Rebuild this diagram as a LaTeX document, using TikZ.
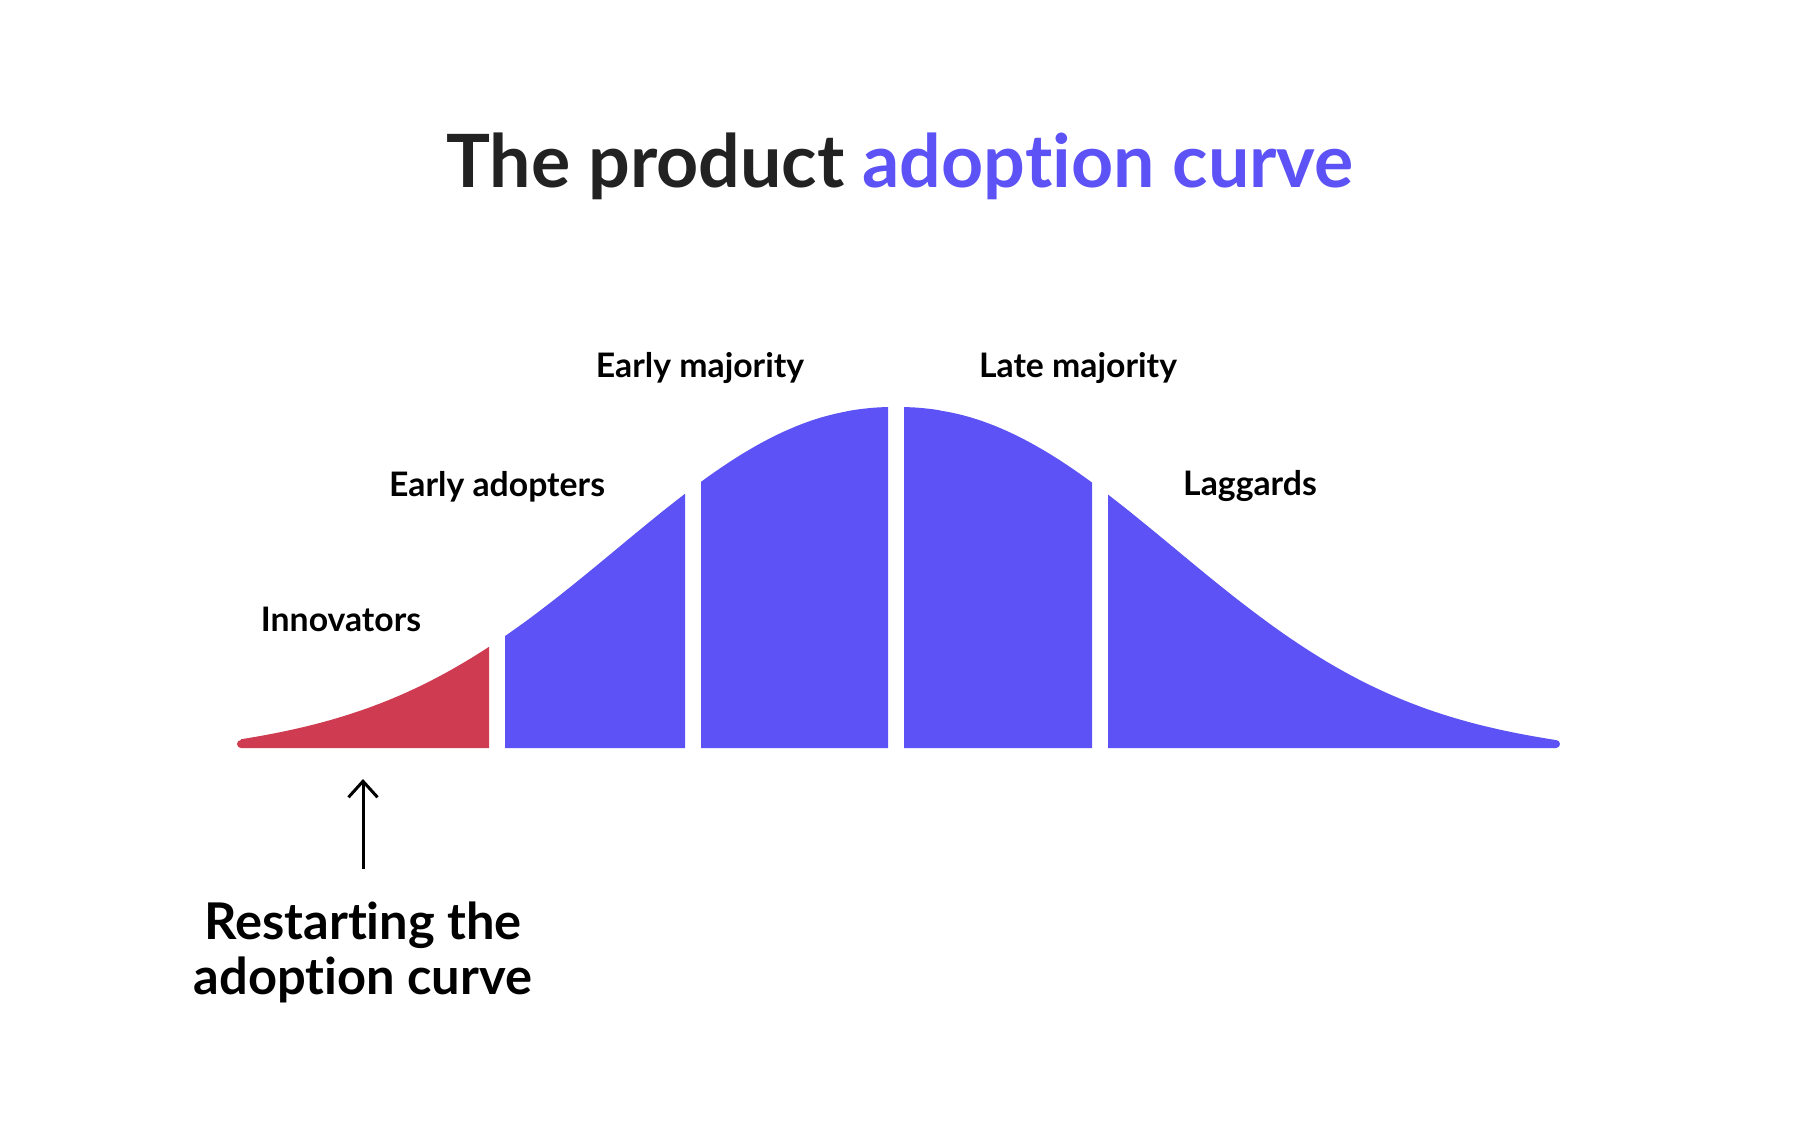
\documentclass[tikz,border=0pt]{standalone}
\usepackage{fontspec}
\setmainfont{Lato}[Ligatures=NoCommon]
\usetikzlibrary{arrows.meta}
\definecolor{cblue}{HTML}{5C52F5}
\definecolor{cred}{HTML}{CF3B50}
\definecolor{ink}{HTML}{222222}
\begin{document}
\begin{tikzpicture}[x=0.01cm,y=-0.01cm,
  declare function={bell(\t)=748-341*exp(-((abs(\t-896)+0.01)/372)^2.16)+3*(abs(\t-896)/664)^8;},
  lab/.style={font=\fontsize{9.6}{11}\selectfont\bfseries, anchor=base, inner sep=0pt, text=black},
  big/.style={font=\fontsize{14.4}{17}\selectfont\bfseries, anchor=base, inner sep=0pt, text=black},
  ttl/.style={font=\fontsize{20.9}{25}\selectfont\bfseries, anchor=base, inner sep=0pt},
  bluebar/.style={fill=cblue},
  redbar/.style={fill=cred},
  pointer/.style={line width=0.03cm, -{Straight Barb[length=1.6mm,width=2.9mm]}}]
\useasboundingbox (0,0) rectangle (1800,1120);
\fill[white] (0,0) rectangle (1800,1120);

% title
\node[ttl] (title) at (900,187) {\textcolor{ink}{The product} \textcolor{cblue}{adoption curve}};

% curve segments
\fill[redbar] (489,748) -- (241,748) -- plot[domain=241:489,samples=40] (\x,{bell(\x)}) -- cycle;
\fill[redbar] (241,744) circle[radius=4];
\fill[bluebar] (505,748) -- plot[domain=505:685,samples=40] (\x,{bell(\x)}) -- (685,748) -- cycle;
\fill[bluebar] (701,748) -- plot[domain=701:888,samples=40] (\x,{bell(\x)}) -- (888,748) -- cycle;
\fill[bluebar] (904,748) -- plot[domain=904:1092,samples=40] (\x,{bell(\x)}) -- (1092,748) -- cycle;
\fill[bluebar] (1108,748) -- plot[domain=1108:1556,samples=60] (\x,{bell(\x)}) -- (1556,748) -- cycle;
\fill[bluebar] (1556,744) circle[radius=4];

% labels
\node[lab] (innov) at (341,631) {Innovators};
\node[lab] (early) at (497,496) {Early adopters};
\node[lab] (emaj) at (700,377) {Early majority};
\node[lab] (lmaj) at (1078,377) {Late majority};
\node[lab] (lagg) at (1250,495) {Laggards};

% restart
\node[big] (restart1) at (363,939) {Restarting the};
\node[big] (restart2) at (363,994) {adoption curve};
\coordinate (arrowfoot) at (363,869);
\coordinate (arrowtip) at (363,779);
\draw[pointer] (arrowfoot) -- (arrowtip);
\end{tikzpicture}
\end{document}
